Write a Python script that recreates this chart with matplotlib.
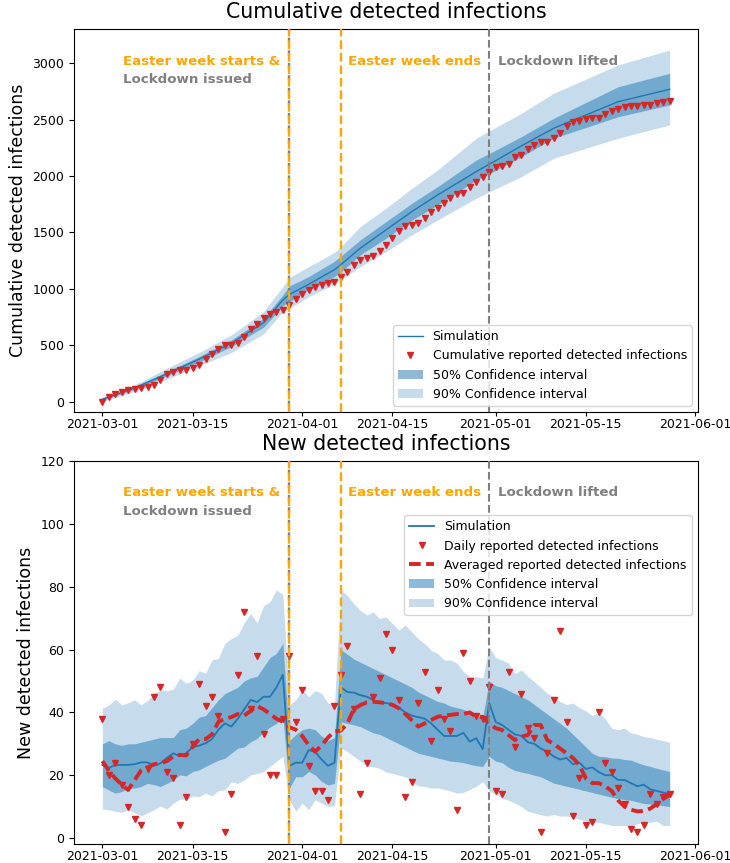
import numpy as np
import pandas as pd
import matplotlib
matplotlib.use("Agg")
import matplotlib.pyplot as plt
import matplotlib.dates as mdates

# -----------------------
# Data
# -----------------------
START_DATE = "2021-03-01"
N_DAYS = 89

# new detected infections per day
daily_reported = [38, 20, 24, 17, 10, 6, 4, 22, 45, 48,
                  21, 19, 4, 13, 30, 49, 42, 45, 39, 2,
                  14, 52, 72, 41, 58, 33, 20, 20, 38, 58,
                  37, 47, 23, 15, 15, 12, 42, 52, 61, 41,
                  14, 24, 45, 51, 65, 60, 44, 13, 18, 43,
                  53, 31, 47, 38, 34, 9, 59, 50, 39, 38,
                  48, 15, 14, 53, 29, 46, 35, 32, 2, 27,
                  44, 66, 37, 7, 19, 4, 5, 40, 24, 21,
                  16, 11, 3, 2, 4, 14, 11, 13, 14]
daily_averaged = [24.5, 21.5, 19, 17, 15.3, 18.5, 21.5, 22.5, 23.5, 23.8,
                  24.5, 26, 26.5, 26.3, 29, 31.5, 31.5, 33, 37, 38,
                  38.5, 39.5, 39, 40.5, 42, 41, 39.5, 38, 37, 35.3,
                  34.5, 32.5, 29.6, 27.5, 29.5, 32, 34, 34.2, 36.5, 41,
                  42.3, 43.2, 43.4, 43.2, 43, 42.4, 41.3, 39.5, 37.5, 35.5,
                  36.5, 37.6, 38.6, 39, 39.2, 39.5, 39.5, 40, 38.6, 38.6,
                  36.5, 35, 34.4, 32.8, 31.2, 32.3, 32.8, 36, 36, 31.2,
                  30, 28.5, 27, 25.5, 23.2, 19, 17.5, 17.5, 16.5, 15,
                  12, 10, 9, 8.5, 8.6, 9.4, 10.8, 12.5, 13.7]
sim_new_median = [23.3, 22.3, 23.3, 23.3, 23.3, 23.5, 24.1, 24.1, 23, 23.8,
                  25.5, 27, 26, 27, 29, 29.4, 30.2, 31.5, 34.5, 36.5,
                  35.5, 38, 41, 44, 43.3, 45, 45, 48, 52, 23,
                  24, 24, 28, 27.5, 25, 23, 24, 48, 46.5, 46.3,
                  45.5, 45, 44, 43, 43, 42.5, 41.5, 40, 39, 38.5,
                  38, 36.5, 34.5, 32.5, 32.5, 32.5, 33.5, 30.7, 31.8, 28.3,
                  43, 37, 36, 34.5, 33, 32.5, 30.5, 30, 28.5, 27.5,
                  26, 25, 25.5, 23.5, 24, 22, 22.5, 21, 20, 20,
                  18.5, 18.5, 17.5, 16.5, 17, 15.5, 15, 14.5, 14]
sim_new_hi50 = [30, 31, 30, 29.5, 30, 30, 30.5, 31, 31.5, 32,
                32, 32, 34.5, 35, 36.5, 38.5, 39, 41.5, 44, 46,
                47, 48, 50, 51, 51.5, 54.5, 57.5, 58.8, 62, 31,
                33, 34.5, 35, 34.5, 32.5, 31, 32, 60, 58.5, 57,
                56, 55, 54, 53, 52, 51, 50, 49, 48, 46.5,
                45.5, 44.5, 43.5, 43, 42, 41.5, 41, 40, 39, 38.5,
                50, 48.5, 48, 47, 46, 45, 44, 42.5, 41, 39.5,
                38, 36.5, 35, 33, 31, 29, 27, 26, 25.9, 25.5,
                25.4, 25, 24.8, 24, 23.3, 22.8, 22.2, 21.7, 21.2]
sim_new_lo50 = [16.4, 15.3, 14.3, 14.8, 15.9, 15.9, 16.4, 17.4, 17, 16.4,
                17.4, 18.5, 20.1, 19.8, 21.2, 21.7, 22.8, 23.8, 24.8, 25.4,
                27, 28.6, 29, 30.7, 31.7, 33.8, 35.3, 36.5, 38.5, 15.9,
                19.5, 19.5, 21.2, 20.1, 18, 16.9, 17.4, 37, 36.5, 36,
                35.5, 34.5, 33.5, 33, 32, 31, 30, 29, 28, 27,
                26.5, 26, 25.5, 25, 24.5, 24.3, 24, 23.5, 23, 22.8,
                26, 24.5, 24, 22.5, 21.5, 21, 20.6, 20, 19.5, 18.5,
                17.5, 17, 16.5, 16, 15.5, 15, 14.5, 14, 13.5, 13,
                12.5, 12.3, 12, 11.5, 11, 10.8, 10.5, 10.3, 10]
sim_new_hi90 = [41.3, 42.4, 44.2, 42.4, 43.1, 44, 42.4, 43.8, 46.1, 47.2,
                46.9, 47.4, 50.9, 49.3, 50.2, 53.3, 52.5, 56.7, 57.2, 62,
                63.5, 64.6, 68.5, 71.5, 68.5, 74, 75.2, 79, 77.5, 42.4,
                44, 47.2, 45, 47, 46.1, 42.9, 42.5, 78.9, 77.3, 74.6,
                72.5, 71, 72, 69.9, 70.4, 68.3, 66.2, 67.8, 65.6, 63.5,
                61.9, 59.8, 58.8, 56.7, 56.7, 55.7, 53, 51.4, 51.4, 51,
                61, 57.5, 56.7, 55.7, 52.4, 53.5, 51.5, 49.8, 48, 46.1,
                45, 43.5, 42.5, 43, 41.5, 40.5, 39, 40, 38, 35,
                34.5, 35, 33.5, 33, 32.3, 32, 31.5, 31, 30.5]
sim_new_lo90 = [9.2, 9, 8.5, 8.2, 9, 8, 7.1, 8, 9, 10.2,
                9.2, 11.1, 12.4, 12.2, 13.4, 13.2, 14.3, 13.4, 15.1, 15.3,
                17.9, 17.4, 18.5, 20.1, 20.5, 21.2, 22.8, 24.4, 26, 12.2,
                8.5, 11.1, 9, 12.2, 11.1, 10.1, 10.3, 28.6, 27.5, 26,
                24.5, 23, 22.7, 22.2, 21, 20.6, 20, 19.5, 18, 16.6,
                16.4, 15.9, 16, 15.5, 15, 14.3, 14.5, 15.5, 16.5, 18,
                15, 14, 12.7, 12, 11.1, 10, 8.5, 8, 7.4, 7,
                7.5, 7, 7, 6.5, 6, 5.5, 5, 5, 4.5, 4,
                4, 4, 4, 4.5, 5, 5, 5.3, 4, 4]

# cumulative detected infections
cum_reported = [0, 44, 65, 89, 104, 113, 124, 130, 148, 192,
                243, 263, 281, 281, 299, 328, 379, 420, 464, 500,
                505, 518, 571, 642, 686, 739, 778, 795, 813, 855,
                908, 952, 990, 1020, 1035, 1050, 1059, 1109, 1153, 1212,
                1257, 1271, 1295, 1339, 1390, 1454, 1514, 1558, 1567, 1588,
                1626, 1685, 1715, 1765, 1804, 1839, 1848, 1901, 1951, 1993,
                2034, 2084, 2093, 2108, 2167, 2188, 2238, 2276, 2306, 2306,
                2336, 2380, 2445, 2483, 2492, 2504, 2513, 2513, 2551, 2581,
                2596, 2616, 2622, 2622, 2628, 2631, 2646, 2655, 2669]
cum_sim_dates = ["2021-03-01", "2021-03-06", "2021-03-11", "2021-03-16", "2021-03-21",
                 "2021-03-26", "2021-03-29", "2021-03-30", "2021-04-02", "2021-04-06",
                 "2021-04-07", "2021-04-10", "2021-04-14", "2021-04-18", "2021-04-22",
                 "2021-04-28", "2021-04-30", "2021-05-05", "2021-05-10", "2021-05-20",
                 "2021-05-28"]
cum_sim_median = [21, 121, 246, 376, 518, 700, 902, 950, 1040, 1170,
                  1215, 1360, 1523, 1685, 1833, 2040, 2105, 2268, 2424, 2660, 2770]
cum_sim_hi50 = [27, 133, 266, 399, 547, 739, 946, 1025, 1109, 1245,
                1290, 1434, 1596, 1759, 1907, 2143, 2200, 2350, 2513, 2793, 2912]
cum_sim_lo50 = [12, 110, 228, 352, 488, 660, 849, 888, 990, 1110,
                1150, 1301, 1449, 1611, 1744, 1966, 2020, 2173, 2336, 2527, 2631]
cum_sim_hi90 = [39, 148, 296, 435, 591, 798, 1020, 1100, 1197, 1323,
                1375, 1552, 1715, 1892, 2055, 2336, 2400, 2557, 2735, 2986, 3119]
cum_sim_lo90 = [0, 89, 198, 317, 435, 600, 798, 825, 931, 1040,
                1080, 1197, 1330, 1478, 1611, 1804, 1860, 1995, 2158, 2336, 2454]

# events
EASTER_START = "2021-03-30"
EASTER_END = "2021-04-07"
LOCKDOWN_LIFTED = "2021-04-30"
XTICKS = ["2021-03-01", "2021-03-15", "2021-04-01", "2021-04-15",
          "2021-05-01", "2021-05-15", "2021-06-01"]

# -----------------------
# Style
# -----------------------
BLUE = "tab:blue"
RED = "tab:red"
TITLE_FS = 14.8
LABEL_FS = 12.5
TICK_FS = 9
LEGEND_FS = 9
NOTE_FS = 9.6

dates = pd.date_range(START_DATE, periods=N_DAYS, freq="D")
cum_dates = pd.to_datetime(cum_sim_dates)


def add_events(ax):
    # grey dashes shifted so they show in the gaps of the orange ones
    ax.axvline(pd.Timestamp(EASTER_START), color="grey", ls=(2.9, (2.4, 2.9)), lw=1.7, zorder=4)
    ax.axvline(pd.Timestamp(EASTER_START), color="orange", ls="--", lw=1.7, zorder=5)
    ax.axvline(pd.Timestamp(EASTER_END), color="orange", ls="--", lw=1.7, zorder=5)
    ax.axvline(pd.Timestamp(LOCKDOWN_LIFTED), color="grey", ls="--", lw=1.5, zorder=4)
    kw = dict(transform=ax.transAxes, fontsize=NOTE_FS, fontweight="bold", va="baseline")
    ax.text(0.079, 0.908, "Easter week starts &", color="orange", **kw)
    ax.text(0.079, 0.860, "Lockdown issued", color="grey", **kw)
    ax.text(0.4396, 0.908, "Easter week ends", color="orange", **kw)
    ax.text(0.679, 0.908, "Lockdown lifted", color="grey", **kw)


def style_axis(ax, title, ylabel):
    ax.set_title(title, fontsize=TITLE_FS, pad=8)
    ax.set_ylabel(ylabel, fontsize=LABEL_FS)
    ax.set_xticks(pd.to_datetime(XTICKS))
    ax.xaxis.set_major_formatter(mdates.DateFormatter("%Y-%m-%d"))
    ax.tick_params(labelsize=TICK_FS)
    ax.tick_params(axis="x", length=3, pad=1)


fig, (ax1, ax2) = plt.subplots(2, 1, figsize=(7.3, 8.63), dpi=100)
fig.subplots_adjust(left=0.1014, right=0.9562, top=0.966, bottom=0.022, hspace=0.128)

# -----------------------
# Cumulative
# -----------------------
f90 = ax1.fill_between(cum_dates, cum_sim_lo90, cum_sim_hi90, color=BLUE, alpha=0.25,
                       lw=0, label="90% Confidence interval")
f50 = ax1.fill_between(cum_dates, cum_sim_lo50, cum_sim_hi50, color=BLUE, alpha=0.5,
                       lw=0, label="50% Confidence interval")
l_sim, = ax1.plot(cum_dates, cum_sim_median, color=BLUE, lw=1, label="Simulation")
l_rep, = ax1.plot(dates, cum_reported, "v", color=RED, ms=5, ls="none",
                  label="Cumulative reported detected infections")
add_events(ax1)
style_axis(ax1, "Cumulative detected infections", "Cumulative detected infections")
ax1.set_ylim(-94, 3302)
ax1.legend(handles=[l_sim, l_rep, f50, f90], loc="lower right", fontsize=LEGEND_FS)

# -----------------------
# New per day
# -----------------------
g90 = ax2.fill_between(dates, sim_new_lo90, sim_new_hi90, color=BLUE, alpha=0.25,
                       lw=0, label="90% Confidence interval")
g50 = ax2.fill_between(dates, sim_new_lo50, sim_new_hi50, color=BLUE, alpha=0.5,
                       lw=0, label="50% Confidence interval")
m_sim, = ax2.plot(dates, sim_new_median, color=BLUE, lw=1.3, label="Simulation")
m_rep, = ax2.plot(dates, daily_reported, "v", color=RED, ms=5, ls="none",
                  label="Daily reported detected infections")
m_avg, = ax2.plot(dates, daily_averaged, color=RED, lw=2.8, ls=(0, (3.0, 1.4)),
                  label="Averaged reported detected infections")
add_events(ax2)
style_axis(ax2, "New detected infections", "New detected infections")
ax2.set_ylim(-1.9, 120)
ax2.legend(handles=[m_sim, m_rep, m_avg, g50, g90], loc="upper right",
           bbox_to_anchor=(1.0, 0.875), fontsize=LEGEND_FS)

fig.savefig("out.png", dpi=100)
